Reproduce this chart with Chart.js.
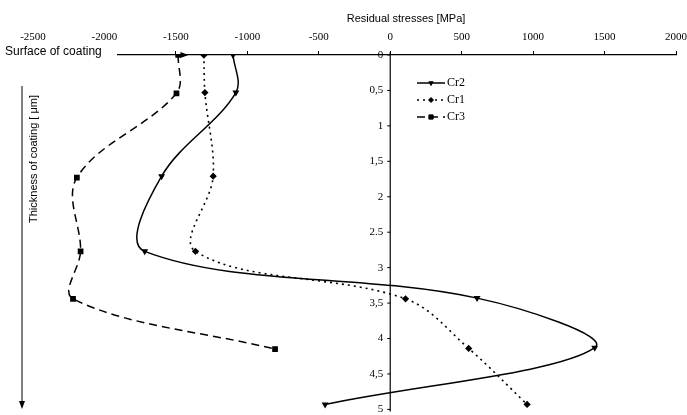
<!DOCTYPE html>
<html>
<head>
<meta charset="utf-8">
<script src="https://cdn.jsdelivr.net/npm/chart.js@4.4.1/dist/chart.umd.min.js"></script>
<style>
html,body{margin:0;padding:0;background:#fff;}
#wrap{width:687px;height:415px;}
</style>
</head>
<body>
<div id="wrap"><canvas id="c" width="687" height="415"></canvas></div>
<script>
// ---- data ----
const depthCr2  = [0, 0.53, 1.71, 2.77, 3.43, 4.13, 4.93];
const stressCr2 = [-1100, -1080, -1600, -1718, 608, 1431, -456];
const depthCr1  = [0, 0.53, 1.71, 2.77, 3.44, 4.14, 4.93];
const stressCr1 = [-1304, -1297, -1239, -1363, 107, 549, 958];
const depthCr3  = [0, 0.54, 1.73, 2.77, 3.44, 4.15];
const stressCr3 = [-1484, -1496, -2193, -2167, -2220, -806];
const seriesNames = ['Cr2', 'Cr1', 'Cr3'];
const xTicks = [-2500, -2000, -1500, -1000, -500, 0, 500, 1000, 1500, 2000];
const yTicks = [0, 0.5, 1, 1.5, 2, 2.5, 3, 3.5, 4, 4.5, 5];
const yTickLabels = ['0', '0,5', '1', '1,5', '2', '2.5', '3', '3,5', '4', '4,5', '5'];
const xTitle = 'Residual stresses [MPa]';
const yTitle = 'Thickness of coating [ \u03bcm]';
const surfaceLabel = 'Surface of coating';

const pts = (xs, ys) => xs.map((v, i) => ({x: v, y: ys[i]}));

const SANS = '"Liberation Sans", Arial, sans-serif';
const SERIF = '"Liberation Serif", "Times New Roman", serif';

const deco = {
  id: 'deco',
  beforeDraw(chart) {
    const ctx = chart.ctx;
    ctx.save();
    ctx.fillStyle = '#fff';
    ctx.fillRect(0, 0, chart.width, chart.height);
    ctx.restore();
  },
  afterDraw(chart) {
    const ctx = chart.ctx;
    const xs = chart.scales.x, ys = chart.scales.y;
    const x0 = xs.getPixelForValue(0);
    ctx.save();
    // title
    ctx.fillStyle = '#000';
    ctx.font = '11px ' + SANS;
    ctx.textAlign = 'center';
    ctx.textBaseline = 'middle';
    ctx.fillText(xTitle, 406, 19);
    // surface label with white box covering start of axis
    ctx.fillStyle = '#fff';
    ctx.fillRect(0, 44, 117, 14);
    ctx.fillStyle = '#000';
    ctx.font = '12px ' + SANS;
    ctx.textAlign = 'left';
    ctx.fillText(surfaceLabel, 5, 52);
    // small arrow head on surface line
    const ax = xs.getPixelForValue(-1440), ay = ys.getPixelForValue(0);
    ctx.beginPath();
    ctx.moveTo(ax + 4, ay);
    ctx.lineTo(ax - 4, ay - 3);
    ctx.lineTo(ax - 4, ay + 3);
    ctx.closePath();
    ctx.fill();
    // y axis at x = 0
    ctx.strokeStyle = '#000';
    ctx.lineWidth = 1.2;
    ctx.beginPath();
    ctx.moveTo(x0, ys.getPixelForValue(0) - 3);
    ctx.lineTo(x0, ys.getPixelForValue(5) + 2);
    ctx.stroke();
    ctx.lineWidth = 1;
    ctx.font = '11px ' + SERIF;
    ctx.textAlign = 'right';
    yTicks.forEach((v, i) => {
      const py = ys.getPixelForValue(v);
      ctx.beginPath();
      ctx.moveTo(x0 - 3, py);
      ctx.lineTo(x0, py);
      ctx.stroke();
      ctx.fillText(yTickLabels[i], x0 - 7, py);
    });
    // left arrow + label
    ctx.beginPath();
    ctx.moveTo(22, 86);
    ctx.lineTo(22, 403);
    ctx.stroke();
    ctx.beginPath();
    ctx.moveTo(22, 409);
    ctx.lineTo(19, 401);
    ctx.lineTo(25, 401);
    ctx.closePath();
    ctx.fill();
    ctx.save();
    ctx.translate(34, 159);
    ctx.rotate(-Math.PI / 2);
    ctx.font = '11px ' + SANS;
    ctx.textAlign = 'center';
    ctx.fillText(yTitle, 0, 0);
    ctx.restore();
    // legend
    const lx = 417, lw = 28;
    const rows = [83, 100, 117];
    chart.data.datasets.forEach((ds, i) => {
      const y = rows[i];
      ctx.save();
      ctx.strokeStyle = '#000';
      ctx.lineWidth = ds.borderWidth;
      ctx.setLineDash(ds.borderDash || []);
      ctx.beginPath();
      ctx.moveTo(lx, y);
      ctx.lineTo(lx + lw, y);
      ctx.stroke();
      ctx.restore();
      Chart.helpers.drawPoint(ctx, {pointStyle: ds.pointStyle, radius: ds.pointRadius, rotation: ds.pointRotation || 0, borderWidth: 1}, lx + lw / 2, y);
      ctx.fillStyle = '#000';
      ctx.font = '12px ' + SERIF;
      ctx.textAlign = 'left';
      ctx.textBaseline = 'middle';
      ctx.fillText(ds.label, lx + lw + 2, y);
    });
    ctx.restore();
  }
};

const common = {showLine: true, borderColor: '#000', backgroundColor: '#000', pointBorderColor: '#000', pointBackgroundColor: '#000', tension: 0.35, fill: false};

new Chart(document.getElementById('c'), {
  type: 'scatter',
  data: {
    datasets: [
      Object.assign({}, common, {label: seriesNames[0], data: pts(stressCr2, depthCr2), borderWidth: 1.5, pointStyle: 'triangle', pointRotation: 180, pointRadius: 2.5}),
      Object.assign({}, common, {label: seriesNames[1], data: pts(stressCr1, depthCr1), borderWidth: 1.6, borderDash: [2, 4], pointStyle: 'rectRot', pointRadius: 2.5}),
      Object.assign({}, common, {label: seriesNames[2], data: pts(stressCr3, depthCr3), borderWidth: 1.5, borderDash: [8, 5], pointStyle: 'rect', pointRadius: 3})
    ]
  },
  options: {
    responsive: false,
    animation: false,
    devicePixelRatio: 1,
    layout: {padding: {left: 33, right: 11, top: 0, bottom: 4}},
    plugins: {legend: {display: false}, tooltip: {enabled: false}},
    scales: {
      x: {
        type: 'linear', position: 'top', min: -2500, max: 2000,
        afterBuildTicks: s => { s.ticks = xTicks.map(v => ({value: v})); },
        afterFit: s => { s.height = 55; s.paddingLeft = 0; s.paddingRight = 0; },
        ticks: {callback: v => String(v), color: '#000', font: {family: SERIF, size: 11}, padding: 7, maxRotation: 0, autoSkip: false},
        grid: {display: true, drawOnChartArea: false, drawTicks: true, tickLength: 4, color: '#000', lineWidth: 1},
        border: {display: true, color: '#000', width: 1.2}
      },
      y: {type: 'linear', display: false, min: 0, max: 5, reverse: true}
    }
  },
  plugins: [deco]
});
</script>
</body>
</html>
